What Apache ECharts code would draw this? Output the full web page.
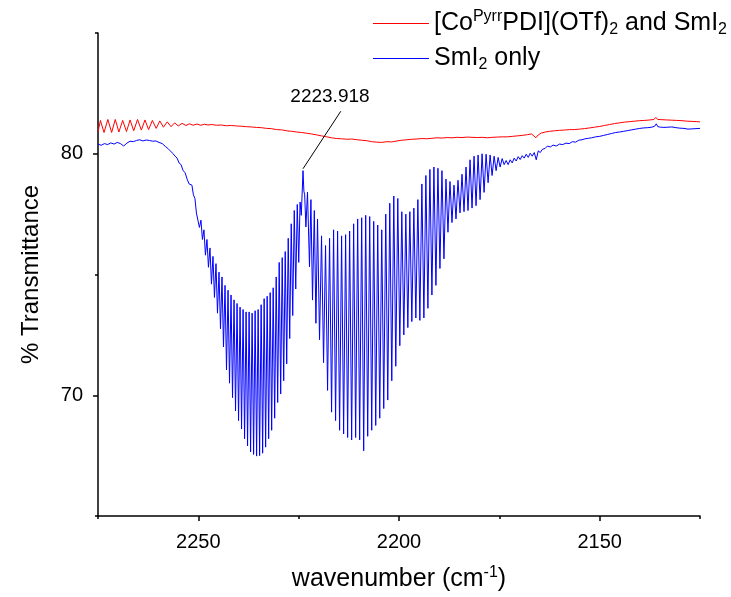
<!DOCTYPE html>
<html>
<head>
<meta charset="utf-8">
<script src="https://cdn.jsdelivr.net/npm/echarts@6/dist/echarts.min.js"></script>
<style>html,body{margin:0;padding:0;background:#fff;}#chart{width:731px;height:597px;}</style>
</head>
<body>
<div id="chart"></div>
<script>
// ---- data ----
const seriesNames = ['[Co(Pyrr)PDI](OTf)2 and SmI2', 'SmI2 only'];
const xMajorTicks = [2250, 2200, 2150];
const xMinorTicks = [2275, 2225, 2175, 2125];
const yMajorTicks = [70, 80];
const yMinorTicks = [65, 75, 85];
const annotationWn = [2223.918];
const annotationT = [79.30];
const annotationTextAt = [2217.2, 82.38];
const annotationLineEnd = [2214.5, 81.76];

const redWn = [2275.0,2274.4,2273.5,2272.55,2271.6,2270.7,2269.8,2268.85,2267.9,2267.0,2266.1,2265.15,2264.2,2263.3,2262.4,2261.45,2260.5,2259.6,2258.7,2257.75,2256.8,2255.9,2255.0,2254.05,2253.1,2252.2,2251.3,2250.35,2249.4,2248.5,2247.6,2246.65,
2245.5,2244.3,2243.0,2241.8,2240.5,2239.3,2238.0,2236.8,2235.5,2234.3,2233.0,2231.8,2230.5,2229.3,2228.0,2226.8,2225.5,2224.3,2223.0,2221.8,2220.5,2219.3,2218.0,2216.8,2215.5,2214.3,2213.0,2211.8,2210.5,2209.3,2208.0,2206.8,2205.5,2204.3,2203.0,2201.8,2200.5,2199.3,2198.0,2196.8,2195.5,2194.3,2193.0,2191.8,2190.5,2189.3,2188.0,2186.8,2185.5,2184.3,2183.0,2181.8,2180.5,2179.3,2178.0,2176.8,2175.5,2174.3,2173.0,2171.8,2170.5,2169.3,2168.0,2167.0,2166.4,2165.9,2165.3,2164.5,2163.5,2162.5,2161.3,2160.0,2158.8,2157.5,2156.3,2155.0,2153.8,2152.5,2151.3,2150.0,2148.8,2147.5,2146.3,2145.0,2143.8,2142.5,2141.3,2140.0,2138.8,2137.5,2136.5,2136.0,2135.5,2134.5,2133.3,2132.0,2130.8,2129.5,2128.3,2127.0,2125.8,2125.0];
const redT = [80.90,81.38,80.88,81.42,80.88,81.42,80.90,81.38,80.92,81.40,80.95,81.42,80.98,81.40,81.00,81.38,81.05,81.36,81.10,81.32,81.12,81.28,81.15,81.26,81.17,81.24,81.18,81.23,81.18,81.22,81.19,81.21,
81.18,81.19,81.16,81.17,81.15,81.14,81.12,81.11,81.09,81.08,81.05,81.04,81.00,80.99,80.95,80.93,80.90,80.88,80.85,80.82,80.78,80.74,80.70,80.66,80.63,80.62,80.60,80.61,80.58,80.56,80.54,80.50,80.48,80.47,80.50,80.49,80.53,80.56,80.58,80.60,80.61,80.63,80.62,80.64,80.66,80.65,80.67,80.66,80.68,80.67,80.69,80.68,80.67,80.68,80.66,80.68,80.69,80.70,80.70,80.72,80.74,80.76,80.79,80.82,80.74,80.66,80.78,80.86,80.90,80.93,80.95,80.97,80.98,81.00,81.00,81.02,81.04,81.07,81.10,81.13,81.17,81.21,81.25,81.28,81.31,81.33,81.35,81.37,81.38,81.40,81.42,81.50,81.42,81.41,81.40,81.39,81.38,81.37,81.35,81.34,81.33,81.32];

const blueWn = [2275.0,2274.2,2273.4,2272.6,2271.8,2271.0,2270.2,2269.4,2268.6,2267.8,2267.0,2266.2,2265.4,2264.6,2263.8,2263.0,2262.2,2261.4,2260.6,2259.8,2259.0,2258.2,
2257.6,2257.0,2256.4,2255.8,2255.3,2254.8,2254.3,2253.8,2253.3,2252.8,2252.3,
2251.60,2251.23,2250.85,2250.48,2250.10,2249.73,2249.35,2248.98,2248.60,2248.23,2247.85,2247.48,2247.10,2246.73,2246.35,2245.98,2245.60,2245.23,2244.85,2244.48,2244.10,2243.73,2243.35,2242.98,2242.60,2242.23,2241.85,2241.48,2241.10,2240.73,2240.35,2239.98,2239.60,2239.23,2238.85,2238.48,2238.10,2237.73,2237.35,2236.98,2236.60,2236.23,2235.85,2235.48,2235.10,2234.73,2234.35,2233.98,2233.60,2233.23,2232.85,2232.48,2232.10,2231.73,2231.35,2230.98,2230.60,2230.23,2229.85,2229.48,2229.10,2228.73,2228.35,2227.98,2227.60,2227.23,2226.85,2226.48,2226.10,2225.73,2225.35,2224.98,
2224.65,2224.35,2224.10,2223.92,2223.70,2223.50,2223.20,2222.80,2222.30,2221.95,2221.55,2221.10,2220.70,
2220.3,2219.8,2219.3,2218.8,2218.3,2217.8,2217.3,2216.8,2216.3,2215.8,2215.3,2214.8,2214.3,2213.8,2213.3,2212.8,2212.3,2211.8,2211.3,2210.8,2210.3,2209.8,2209.3,2208.8,2208.3,2207.8,2207.3,2206.8,2206.3,2205.8,2205.3,2204.8,2204.3,2203.8,2203.3,2202.8,2202.3,2201.8,2201.3,2200.8,2200.3,2199.8,2199.3,2198.8,2198.3,2197.8,2197.3,2196.8,2196.3,2195.8,2195.3,2194.8,2194.3,2193.8,2193.3,2192.8,2192.3,2191.8,2191.3,2190.8,2190.3,2189.8,2189.3,2188.8,2188.3,2187.8,2187.3,2186.8,2186.3,2185.8,2185.3,2184.8,2184.3,2183.8,2183.3,2182.8,2182.3,2181.8,2181.3,2180.8,2180.3,2179.8,2179.3,2178.8,2178.3,2177.8,2177.3,2176.8,2176.3,2175.8,2175.3,2174.8,2174.3,2173.8,2173.3,2172.8,
2172.3,2171.8,2171.3,2170.8,2170.3,2169.8,2169.3,2168.8,2168.3,2167.8,2167.3,2166.8,2166.3,2165.8,2165.3,2164.8,2164.3,2163.6,2163.0,2162.3,2161.6,2160.8,2160.0,2159.2,2158.4,2157.6,2156.8,2156.0,2155.2,2154.4,2153.6,2152.8,2152.0,2151.0,2150.0,2149.0,2148.0,2147.0,2146.0,2145.0,2144.0,2143.0,2142.0,2141.0,2140.0,2139.0,2138.0,2137.0,2136.3,2135.9,2135.5,2134.8,2134.0,2133.0,2132.0,2131.0,2130.0,2129.0,2128.0,2127.0,2126.0,2125.0];
const blueT = [80.40,80.35,80.42,80.38,80.45,80.40,80.47,80.42,80.32,80.44,80.52,80.50,80.55,80.58,80.53,80.57,80.55,80.52,80.53,80.47,80.42,80.30,
80.22,80.12,80.02,79.90,79.82,79.62,79.55,79.30,79.22,78.95,78.75,
78.70,78.30,78.15,77.55,77.55,76.95,77.25,76.45,76.85,75.80,76.45,75.30,76.10,74.60,75.75,74.05,75.45,73.40,75.10,72.75,74.90,72.00,74.55,71.05,74.35,70.50,74.15,69.90,73.95,69.35,73.80,68.95,73.65,68.60,73.55,68.20,73.45,67.90,73.45,67.65,73.40,67.55,73.50,67.48,73.55,67.50,73.75,67.60,74.00,67.85,74.10,68.20,74.25,68.55,74.45,69.05,74.90,69.70,75.50,70.05,75.70,70.60,75.95,71.30,76.50,72.35,77.10,73.30,77.65,74.40,77.90,75.50,
78.00,77.45,78.50,79.30,78.45,78.30,76.97,78.41,75.32,78.10,73.94,77.65,72.98,
77.30,72.30,76.60,71.35,76.20,70.20,76.50,69.30,76.85,68.95,76.80,68.55,76.60,68.40,76.65,68.25,76.80,68.15,77.10,68.25,77.30,68.15,77.35,67.70,77.45,68.30,77.40,68.55,77.20,68.75,77.05,69.05,76.85,69.45,77.50,69.80,77.95,70.60,78.25,71.20,78.15,72.05,77.60,72.50,77.50,72.80,77.60,73.05,77.75,73.20,78.10,73.10,78.75,73.20,79.10,73.60,79.35,74.15,79.45,74.55,79.40,75.25,79.30,75.65,78.95,76.75,78.85,77.15,78.70,77.30,78.90,77.55,79.15,77.60,79.45,77.65,79.75,77.75,79.90,77.85,79.95,78.10,80.00,78.40,79.98,78.80,79.95,79.10,79.90,79.30,79.85,79.45,79.80,79.55,79.72,79.55,
79.75,79.62,79.82,79.70,79.88,79.76,79.92,79.82,79.98,79.85,80.02,79.90,80.05,79.75,80.12,80.05,80.18,80.22,80.32,80.28,80.36,80.32,80.40,80.38,80.44,80.42,80.50,80.48,80.56,80.58,80.62,80.64,80.66,80.70,80.72,80.76,80.80,80.84,80.88,80.90,80.93,80.96,80.99,81.02,81.05,81.07,81.08,81.10,81.14,81.24,81.12,81.10,81.09,81.10,81.11,81.08,81.06,81.05,81.02,81.03,81.04,81.05];

// ---- chart ----
const FONT = '"Liberation Sans", Arial, sans-serif';
const redData = redWn.map((w, i) => [w, redT[i]]);
const blueData = blueWn.map((w, i) => [w, blueT[i]]);
const richText = {
  n: { fontSize: 25, fontFamily: FONT, color: '#000', lineHeight: 29 },
  sup: { fontSize: 16, fontFamily: FONT, color: '#000', lineHeight: 19, verticalAlign: 'top' },
  sub: { fontSize: 16, fontFamily: FONT, color: '#000', lineHeight: 14, verticalAlign: 'bottom' }
};
const legendRich = {};
legendRich[seriesNames[0]] = '{n|[Co}{sup|Pyrr}{n|PDI](OTf)}{sub|2}{n| and SmI}{sub|2}';
legendRich[seriesNames[1]] = '{n|SmI}{sub|2}{n| only}';

const chart = echarts.init(document.getElementById('chart'), null, { renderer: 'canvas' });
const axisBase = { type: 'value', splitLine: { show: false } };
chart.setOption({
  animation: false,
  backgroundColor: '#ffffff',
  grid: { left: 98, top: 33, width: 602, height: 485 },
  legend: {
    orient: 'vertical', align: 'left', right: 4, top: 9, padding: 0,
    itemWidth: 56, itemHeight: 1, itemGap: 8, icon: 'rect',
    data: seriesNames,
    formatter: name => legendRich[name],
    textStyle: { fontSize: 25, fontFamily: FONT, color: '#000', rich: richText }
  },
  xAxis: [
    Object.assign({}, axisBase, {
      min: 2125, max: 2275, inverse: true, position: 'bottom',
      axisLine: { show: true, onZero: false, lineStyle: { color: '#000', width: 1.5 } },
      axisTick: { show: true, length: 5, customValues: xMajorTicks, lineStyle: { color: '#000', width: 1.5 } },
      axisLabel: { customValues: xMajorTicks, formatter: v => String(v), fontSize: 20, fontFamily: FONT, color: '#000', margin: 16 },
      name: '{n|wavenumber (cm}{sup|-1}{n|)}', nameLocation: 'middle', nameGap: 49,
      nameTextStyle: { fontSize: 25, fontFamily: FONT, color: '#000', rich: richText }
    }),
    Object.assign({}, axisBase, {
      min: 2125, max: 2275, inverse: true, position: 'bottom',
      axisLine: { show: false, onZero: false },
      axisTick: { show: true, length: 3, customValues: xMinorTicks, lineStyle: { color: '#000', width: 1.5 } },
      axisLabel: { show: false }
    })
  ],
  yAxis: [
    Object.assign({}, axisBase, {
      min: 65, max: 85, position: 'left',
      axisLine: { show: true, onZero: false, lineStyle: { color: '#000', width: 1.5 } },
      axisTick: { show: true, length: 5, customValues: yMajorTicks, lineStyle: { color: '#000', width: 1.5 } },
      axisLabel: { customValues: yMajorTicks, formatter: v => String(v), fontSize: 20, fontFamily: FONT, color: '#000', margin: 15 },
      name: '% Transmittance', nameLocation: 'middle', nameGap: 55,
      nameTextStyle: { fontSize: 24, fontFamily: FONT, color: '#000' }
    }),
    Object.assign({}, axisBase, {
      min: 65, max: 85, position: 'left',
      axisLine: { show: false, onZero: false },
      axisTick: { show: true, length: 3, customValues: yMinorTicks, lineStyle: { color: '#000', width: 1.5 } },
      axisLabel: { show: false }
    })
  ],
  series: [
    {
      name: seriesNames[0], type: 'line', data: redData, xAxisIndex: 0, yAxisIndex: 0,
      showSymbol: false, symbol: 'none', color: '#ff0000',
      lineStyle: { color: '#ff0000', width: 1 }
    },
    {
      name: seriesNames[1], type: 'line', data: blueData, xAxisIndex: 0, yAxisIndex: 0,
      showSymbol: false, symbol: 'none', color: '#0000ff',
      lineStyle: { color: '#0000ff', width: 1 },
      markLine: {
        silent: true, symbol: ['none', 'none'], animation: false,
        lineStyle: { color: '#000', width: 1, type: 'solid' },
        label: { show: false },
        data: [[{ coord: [annotationWn[0], annotationT[0] + 0.08] }, { coord: annotationLineEnd }]]
      },
      markPoint: {
        silent: true, symbol: 'circle', symbolSize: 1, animation: false,
        itemStyle: { color: 'rgba(0,0,0,0)' },
        label: { show: true, position: 'inside', formatter: String(annotationWn[0]), fontSize: 19, fontFamily: FONT, color: '#000' },
        data: [{ coord: annotationTextAt }]
      }
    }
  ]
});
</script>
</body>
</html>
